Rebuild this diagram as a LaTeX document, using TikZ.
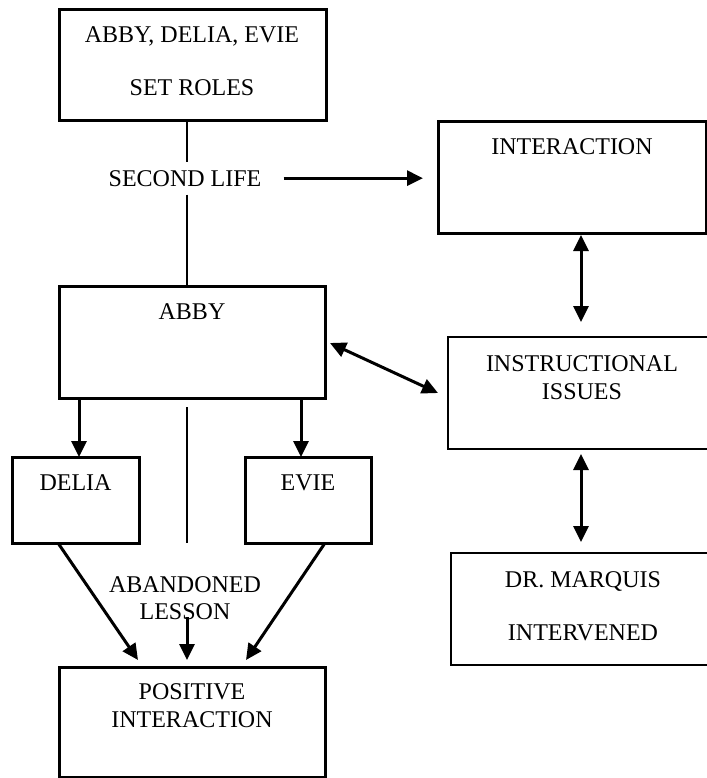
\documentclass[tikz,border=0pt]{standalone}
\usepackage{fontspec}
\setmainfont{Liberation Serif}
\usetikzlibrary{arrows.meta,fit}

\begin{document}
\begin{tikzpicture}[x=0.5pt,y=-0.5pt,
  font=\fontsize{12}{14}\selectfont,
  box/.style={draw, line width=1.5pt, inner sep=0pt, outer sep=0pt},
  thinbox/.style={draw, line width=1.25pt, inner sep=0pt, outer sep=0pt},
  txt/.style={anchor=base, inner sep=0pt},
  plain/.style={line width=1.2pt},
  arr/.style={line width=1.5pt, -{Triangle[length=8pt,width=7.5pt]}},
  darr/.style={line width=1.5pt, {Triangle[length=8pt,width=7.5pt]}-{Triangle[length=8pt,width=7.5pt]}}]

\useasboundingbox (0,0) rectangle (707,778);
\clip (0,0) rectangle (707,778);

% boxes
\node[box, fit={(59,9) (326,120)}] (roles) {};
\node[box, fit={(438,121) (706,233)}] (inter) {};
\node[box, fit={(59,286) (325,398)}] (abby) {};
\node[thinbox, fit={(448,337) (716,449)}] (instr) {};
\node[thinbox, fit={(451,553) (716,665)}] (marquis) {};
\node[box, fit={(12,457) (139,543)}] (delia) {};
\node[box, fit={(245,457) (371,543)}] (evie) {};
\node[box, fit={(59,667) (325,777)}] (pos) {};

% texts
\node[txt] (t1a) at (192,42) {ABBY, DELIA, EVIE};
\node[txt] (t1b) at (192,95) {SET ROLES};
\node[anchor=base, inner sep=4pt] (second) at (185,186) {SECOND LIFE};
\node[txt] (t2) at (572,154) {INTERACTION};
\node[txt] (t3) at (192,319) {ABBY};
\node[txt] (t4a) at (582,371) {INSTRUCTIONAL};
\node[txt] (t4b) at (582,399) {ISSUES};
\node[txt] (t5a) at (583,587) {DR. MARQUIS};
\node[txt] (t5b) at (583,640) {INTERVENED};
\node[txt] (t6) at (75.5,490) {DELIA};
\node[txt] (t7) at (308,490) {EVIE};
\node[txt] (aband) at (185,592) {ABANDONED};
\node[txt] (lesson) at (185,619) {LESSON};
\node[txt] (t8a) at (192,699) {POSITIVE};
\node[txt] (t8b) at (192,727) {INTERACTION};

% guide columns
\coordinate (xa) at (79,0);
\coordinate (xe) at (301,0);
\coordinate (xm) at (187,0);
\coordinate (xr) at (581,0);

% connectors
\draw[plain] (roles.south -| xm) -- (second.north -| xm);
\draw[plain] (second.south -| xm) -- (abby.north -| xm);
\draw[arr, shorten <=7pt, shorten >=7.5pt] (second.east) -- (second.east -| inter.west);
\draw[darr, shorten <=1pt, shorten >=7.5pt] (inter.south -| xr) -- (instr.north -| xr);
\draw[darr] ([shift={(5,1)}]abby.east) -- ([shift={(-10,0)}]instr.west);
\draw[darr, shorten <=2.5pt, shorten >=5.5pt] (instr.south -| xr) -- (marquis.north -| xr);
\draw[arr] (abby.south -| xa) -- (delia.north -| xa);
\draw[arr] (abby.south -| xe) -- (evie.north -| xe);
\draw[plain] (abby.south -| xm) ++(0,9) -- (delia.south -| xm);
\draw[arr] ([shift={(46,0)}]delia.south west) -- ([shift={(79,-7)}]pos.north west);
\draw[arr] ([shift={(80,0)}]evie.south west) -- ([shift={(-79,-7)}]pos.north east);
\draw[arr, shorten >=3.5pt] (xm |- lesson.base) ++(0,-2) -- (pos.north -| xm);
\end{tikzpicture}
\end{document}
